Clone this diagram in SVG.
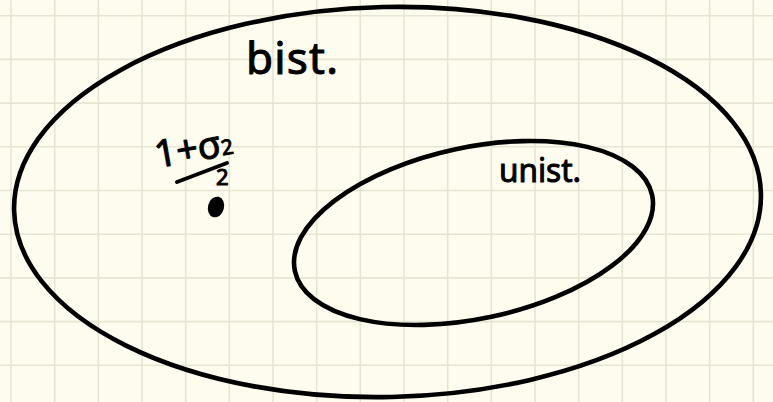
<svg xmlns="http://www.w3.org/2000/svg" width="773" height="402" viewBox="0 0 773 402">
<style>
.grid{stroke:#e6e4d3;stroke-width:1.6;fill:none}
.set{fill:none;stroke:#000;stroke-width:4.6}
.hand{font-family:"Noto Sans","DejaVu Sans",sans-serif;fill:#000;stroke:#000;stroke-width:1;stroke-linejoin:round}
</style>
<rect width="773" height="402" fill="#fdfcee"/>
<g id="grid">
<path class="grid" d="M11 0V402M54.7 0V402M98.3 0V402M142 0V402M185.7 0V402M229.3 0V402M273 0V402M316.7 0V402M360.3 0V402M404 0V402M447.7 0V402M491.3 0V402M535 0V402M578.7 0V402M622.3 0V402M666 0V402M709.7 0V402M753.3 0V402M0 15.7H773M0 59.4H773M0 103.1H773M0 146.8H773M0 190.5H773M0 234.2H773M0 277.9H773M0 321.6H773M0 365.3H773"/>
</g>
<g id="bist">
<ellipse class="set" cx="387.5" cy="202" rx="373.5" ry="195" transform="rotate(-1.3 387.5 202)"/>
<text class="hand" x="246" y="74" font-size="44" textLength="92" lengthAdjust="spacing">bist.</text>
</g>
<g id="unist">
<ellipse class="set" cx="473.5" cy="233" rx="182.6" ry="85.7" transform="rotate(-12 473.5 233)"/>
<text class="hand" x="499" y="182" font-size="33" textLength="82" lengthAdjust="spacingAndGlyphs">unist.</text>
</g>
<g id="point">
<text class="hand" x="157" y="168" font-size="38" transform="rotate(-10 157 168)">1+σ<tspan font-size="21" dy="-1">2</tspan></text>
<line x1="177" y1="182" x2="227" y2="163" stroke="#000" stroke-width="4" stroke-linecap="round"/>
<text class="hand" x="216" y="185" font-size="22">2</text>
<ellipse cx="216" cy="207" rx="8" ry="10.5" transform="rotate(15 216 207)" fill="#000"/>
</g>
</svg>
